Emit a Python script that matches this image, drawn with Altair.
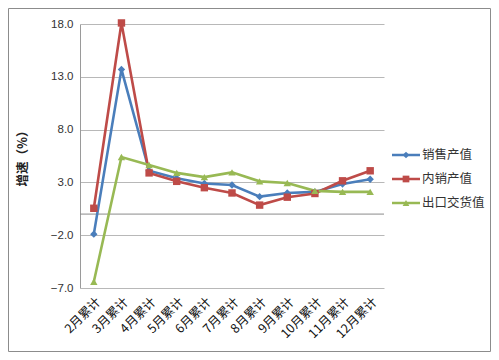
import altair as alt
import pandas as pd

categories = ["2月累计", "3月累计", "4月累计", "5月累计", "6月累计", "7月累计",
              "8月累计", "9月累计", "10月累计", "11月累计", "12月累计"]
series_names = ["销售产值", "内销产值", "出口交货值"]
sales = [-1.9, 13.7, 4.1, 3.4, 2.9, 2.75, 1.65, 2.0, 2.1, 2.85, 3.3]
domestic = [0.55, 18.1, 3.9, 3.1, 2.5, 2.0, 0.85, 1.6, 1.95, 3.15, 4.1]
export = [-6.4, 5.4, 4.65, 3.9, 3.5, 3.95, 3.1, 2.95, 2.2, 2.1, 2.1]
y_ticks = [-7, -2, 3, 8, 13, 18]
colors = ["#4A7EBB", "#BE4B48", "#98B954"]
shapes = ["diamond", "square", "triangle-up"]

rows = []
for name, vals in zip(series_names, [sales, domestic, export]):
    for c, v in zip(categories, vals):
        rows.append({"cat": c, "series": name, "value": v})
df = pd.DataFrame(rows)

W, H = 304, 264
PL, PT, PR, PB = 72, 16, 107, 64

color_scale = alt.Scale(domain=series_names, range=colors)
shape_scale = alt.Scale(domain=series_names, range=shapes)
x_enc = alt.X("cat:N", sort=categories, title=None,
              axis=alt.Axis(labelAngle=-45, domain=False, ticks=False, grid=False,
                            labelFont="Noto Sans CJK SC", labelFontSize=12.5,
                            labelColor="#111111", labelPadding=7))
y_enc = alt.Y("value:Q", scale=alt.Scale(domain=[-7, 18], nice=False, zero=False),
              axis=alt.Axis(values=y_ticks, format=".1f", title="增速（%）",
                            titleFont="Noto Sans CJK SC", titleFontSize=12.5,
                            titleFontWeight="bold", titleColor="#222222",
                            titleX=-58, titleY=131, titleAngle=-90,
                            titleAlign="center", titleBaseline="middle",
                            labelFont="Liberation Sans", labelFontSize=11.5,
                            labelColor="#333333", labelPadding=7,
                            grid=True, gridColor="#B8B8B8", gridWidth=1,
                            domain=True, domainColor="#9A9A9A", ticks=False))

base = alt.Chart(df)
lines = base.mark_line(strokeWidth=2.6).encode(
    x=x_enc, y=y_enc,
    color=alt.Color("series:N", scale=color_scale, legend=None),
    detail="series:N")
points = base.mark_point(filled=True, opacity=1, size=55).encode(
    x=alt.X("cat:N", sort=categories),
    y="value:Q",
    color=alt.Color("series:N", scale=color_scale, legend=None),
    shape=alt.Shape("series:N", scale=shape_scale, legend=None))

zero = alt.Chart(pd.DataFrame({"value": [0]})).mark_rule(
    color="#8A8A8A", strokeWidth=1).encode(y="value:Q")

leg_df = pd.DataFrame({"series": series_names, "rank": [0, 1, 2]})
leg_y = alt.Y("rank:Q", scale=alt.Scale(domain=[0, 2], range=[131, 179]), axis=None)
leg_base = alt.Chart(leg_df)
leg_lines = leg_base.mark_rule(strokeWidth=2.5).encode(
    x=alt.value(312), x2=alt.value(340), y=leg_y,
    color=alt.Color("series:N", scale=color_scale, legend=None))
leg_pts = leg_base.mark_point(filled=True, opacity=1, size=45).encode(
    x=alt.value(326), y=leg_y,
    color=alt.Color("series:N", scale=color_scale, legend=None),
    shape=alt.Shape("series:N", scale=shape_scale, legend=None))
leg_text = leg_base.mark_text(align="left", baseline="middle", dx=0,
                              font="Noto Sans CJK SC", fontSize=12.5,
                              color="#333333").encode(
    x=alt.value(342), y=leg_y, text="series:N")

border = alt.Chart(pd.DataFrame({"a": [0]})).mark_rect(
    fillOpacity=0, stroke="#8C8C8C", strokeWidth=1).encode(
    x=alt.value(-PL + 0.5), x2=alt.value(W + PR - 0.5),
    y=alt.value(-PT + 0.5), y2=alt.value(H + PB - 0.5))

main = alt.layer(zero, lines, points)
legend = alt.layer(leg_lines, leg_pts, leg_text)

chart = alt.layer(main, legend, border).resolve_scale(y="independent").properties(
    width=W, height=H,
    autosize=alt.AutoSizeParams(type="none"),
    padding={"left": PL, "top": PT, "right": PR, "bottom": PB},
    background="white"
).configure_view(stroke=None)

chart.save("out.html", embed_options={"renderer": "svg", "actions": False})
